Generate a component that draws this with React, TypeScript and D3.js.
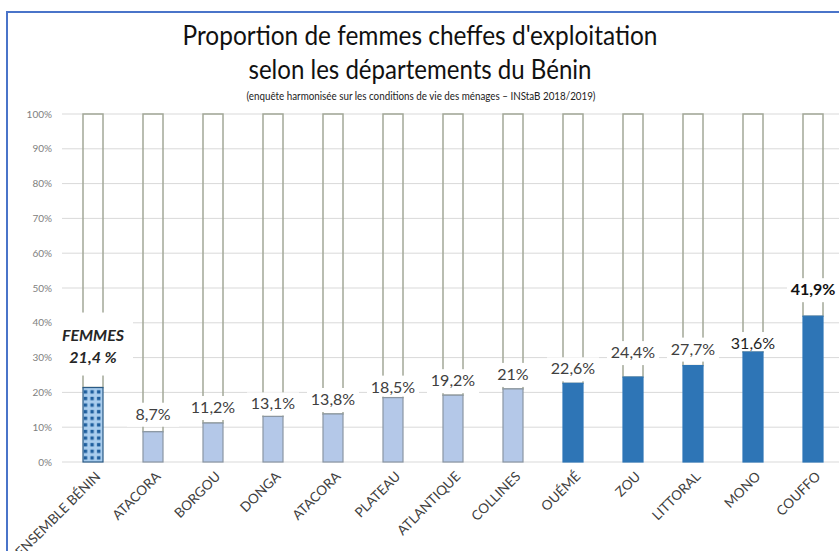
import React from "react";
import * as d3 from "d3";

const categories = ["ENSEMBLE BÉNIN", "ATACORA", "BORGOU", "DONGA", "ATACORA", "PLATEAU", "ATLANTIQUE", "COLLINES", "OUÉMÉ", "ZOU", "LITTORAL", "MONO", "COUFFO"];
const values = [21.4, 8.7, 11.2, 13.1, 13.8, 18.5, 19.2, 21, 22.6, 24.4, 27.7, 31.6, 41.9];
const valueLabels = ["21,4 %", "8,7%", "11,2%", "13,1%", "13,8%", "18,5%", "19,2%", "21%", "22,6%", "24,4%", "27,7%", "31,6%", "41,9%"];
const groups = ["total", "light", "light", "light", "light", "light", "light", "light", "dark", "dark", "dark", "dark", "dark"];
const yTicks = [0, 10, 20, 30, 40, 50, 60, 70, 80, 90, 100];
const totalValue = 100;

// layout: distance (px) from bar top to label baseline
const labelLift = [25, 12, 10, 7, 9, 5, 9, 9, 9, 19, 11, 3, 21];

const W = 839;
const H = 551;
const FONT = "Lato, 'Open Sans', sans-serif";

export default function App() {
  const x = d3.scaleBand<number>()
    .domain(d3.range(categories.length))
    .range([63, 843])
    .paddingInner(2 / 3)
    .paddingOuter(1 / 3);
  const y = d3.scaleLinear().domain([0, 100]).range([462, 114]);
  const bw = x.bandwidth();

  return (
    <svg width={W} height={H} style={{ position: "absolute", left: 0, top: 0, background: "#fff" }} fontFamily={FONT}>
      <defs>
        <pattern id="checks" width="6.6" height="6.6" patternUnits="userSpaceOnUse" x="83" y="0">
          <rect width="6.6" height="6.6" fill="#a9cdee" />
          <rect x="0.8" y="0.8" width="3.4" height="3.4" fill="#1f5f9e" />
        </pattern>
      </defs>
      <rect x={0} y={0} width={W} height={H} fill="#fff" />
      {/* frame */}
      <rect x={7} y={12} width={W + 20} height={H + 20} fill="none" stroke="#4a74c9" strokeWidth={2} />

      {/* titles */}
      <text x={420} y={45} textAnchor="middle" fontSize={26} fill="#111" textLength={475} lengthAdjust="spacingAndGlyphs">
        Proportion de femmes cheffes d'exploitation
      </text>
      <text x={420} y={79} textAnchor="middle" fontSize={26} fill="#111" textLength={343} lengthAdjust="spacingAndGlyphs">
        selon les départements du Bénin
      </text>
      <text x={421} y={100} textAnchor="middle" fontSize={10.5} fill="#222" textLength={349} lengthAdjust="spacingAndGlyphs">
        (enquête harmonisée sur les conditions de vie des ménages – INStaB 2018/2019)
      </text>

      {/* gridlines */}
      {yTicks.map((t) => (
        <g key={t}>
          <line x1={62} x2={W} y1={y(t)} y2={y(t)} stroke="#d9d9d9" strokeWidth={1} />
          <text x={52} y={y(t)} dy="0.35em" textAnchor="end" fontSize={10} fill="#808080">{t}%</text>
        </g>
      ))}

      {/* remainder outlines (value → 100%) */}
      {values.map((v, i) => (
        <rect key={"o" + i} x={x(i)} y={y(totalValue)} width={bw} height={y(v) - y(totalValue)}
          fill="none" stroke="#a3a898" strokeWidth={1.5} />
      ))}

      {/* bars */}
      {values.map((v, i) => {
        const g = groups[i];
        const fill = g === "total" ? "url(#checks)" : g === "light" ? "#b4c8e8" : "#2e75b6";
        const stroke = g === "total" ? "#2a5a85" : g === "light" ? "#8a96a3" : "#2e75b6";
        return (
          <rect key={"b" + i} x={x(i)} y={y(v)} width={bw} height={y(0) - y(v)}
            fill={fill} stroke={stroke} strokeWidth={1.2} />
        );
      })}

      {/* labels with white boxes */}
      {values.map((v, i) => {
        const cx = (x(i) as number) + bw / 2;
        const top = y(v);
        if (i === 0) {
          return (
            <g key={"l" + i}>
              <rect x={cx - 38} y={top - 75} width={78} height={63} fill="#fff" />
              <text x={cx} y={top - 47} textAnchor="middle" fontSize={16} fontWeight="bold" fontStyle="italic" fill="#262626">FEMMES</text>
              <text x={cx} y={top - labelLift[i]} textAnchor="middle" fontSize={16} fontWeight="bold" fontStyle="italic" fill="#262626">{valueLabels[i]}</text>
            </g>
          );
        }
        const base = top - labelLift[i];
        const boxTop = base - 17;
        const boxBottom = Math.min(base + 7, top - 1);
        const isMax = i === values.length - 1;
        const isMono = i === values.length - 2;
        return (
          <g key={"l" + i}>
            <rect x={cx - 26} y={boxTop} width={52} height={boxBottom - boxTop} fill="#fff" />
            <text x={cx} y={base} textAnchor="middle" fontSize={16}
              fontWeight={isMax ? "bold" : "normal"} fill={isMax ? "#111" : isMono ? "#1e1e1e" : "#404040"}>
              {valueLabels[i]}
            </text>
          </g>
        );
      })}

      {/* x labels */}
      {categories.map((c, i) => {
        const cx = (x(i) as number) + bw / 2;
        return (
          <text key={"x" + i} transform={`translate(${cx + 5},${474}) rotate(-45)`} textAnchor="end"
            dy="0.35em" fontSize={13.5} fill="#404040">{c}</text>
        );
      })}
    </svg>
  );
}
